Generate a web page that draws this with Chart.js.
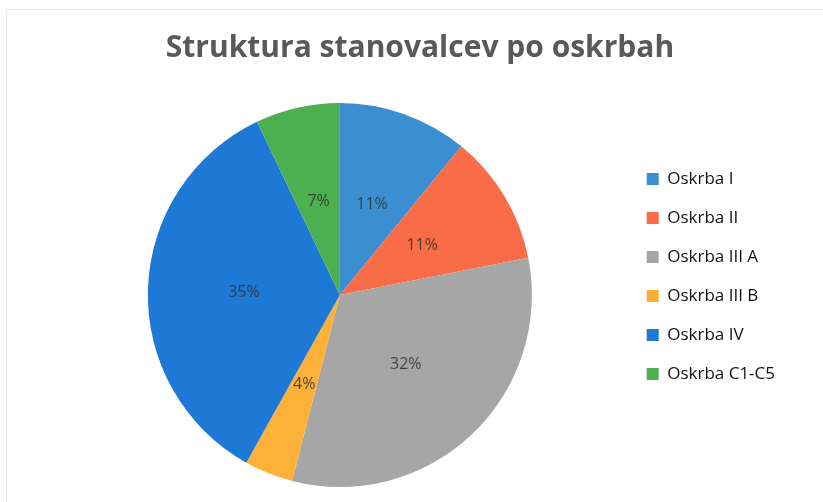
<!DOCTYPE html>
<html>
<head>
<meta charset="utf-8">
<script src="https://cdn.jsdelivr.net/npm/chart.js@4"></script>
<style>
  html, body { margin: 0; padding: 0; background: #fff; }
  #wrap { position: relative; width: 823px; height: 502px; }
  #frame { position: absolute; left: 6px; top: 9px; right: 0; bottom: 0;
           border-left: 1px solid #ececec; border-top: 1px solid #ececec; }
  canvas { position: absolute; left: 0; top: 0; }
</style>
</head>
<body>
<div id="wrap">
  <div id="frame"></div>
  <canvas id="chart" width="823" height="502"></canvas>
</div>
<script>
// podatki
const labels = ["Oskrba I", "Oskrba II", "Oskrba III A", "Oskrba III B", "Oskrba IV", "Oskrba C1-C5"];
const shares = [10.9, 11.0, 32.1, 4.1, 34.8, 7.1];
const colors = ["#3b8fd0", "#f86c47", "#a6a6a6", "#fdb138", "#1e78d6", "#4caf50"];

// percent labels in the middle of each slice
const sliceLabels = {
  id: "sliceLabels",
  afterDatasetsDraw(chart) {
    const ctx = chart.ctx;
    const meta = chart.getDatasetMeta(0);
    const total = shares.reduce((a, b) => a + b, 0);
    ctx.save();
    ctx.font = "16px 'Open Sans', sans-serif";
    ctx.fillStyle = "rgba(50,50,50,0.85)";
    ctx.textAlign = "center";
    ctx.textBaseline = "middle";
    meta.data.forEach((arc, i) => {
      const p = arc.getCenterPoint();
      ctx.fillText(Math.round(shares[i] / total * 100) + "%", p.x, p.y);
    });
    ctx.restore();
  }
};

new Chart(document.getElementById("chart"), {
  type: "pie",
  data: {
    labels: labels,
    datasets: [{
      data: shares,
      backgroundColor: colors,
      borderWidth: 0
    }]
  },
  options: {
    responsive: false,
    animation: false,
    layout: { padding: { left: 55, right: 38, top: 0, bottom: 15 } },
    plugins: {
      title: {
        display: true,
        text: "Struktura stanovalcev po oskrbah",
        color: "#595959",
        font: { family: "'Open Sans', sans-serif", size: 30, weight: "bold" },
        padding: { top: 30, bottom: 37 }
      },
      legend: {
        position: "right",
        title: {
          display: true,
          text: " ",
          font: { size: 10 },
          padding: { top: 27, bottom: 27 }
        },
        labels: {
          color: "#111",
          font: { family: "'Open Sans', sans-serif", size: 17 },
          boxWidth: 12,
          boxHeight: 12,
          padding: 22
        }
      },
      tooltip: { enabled: false }
    }
  },
  plugins: [sliceLabels]
});
</script>
</body>
</html>
